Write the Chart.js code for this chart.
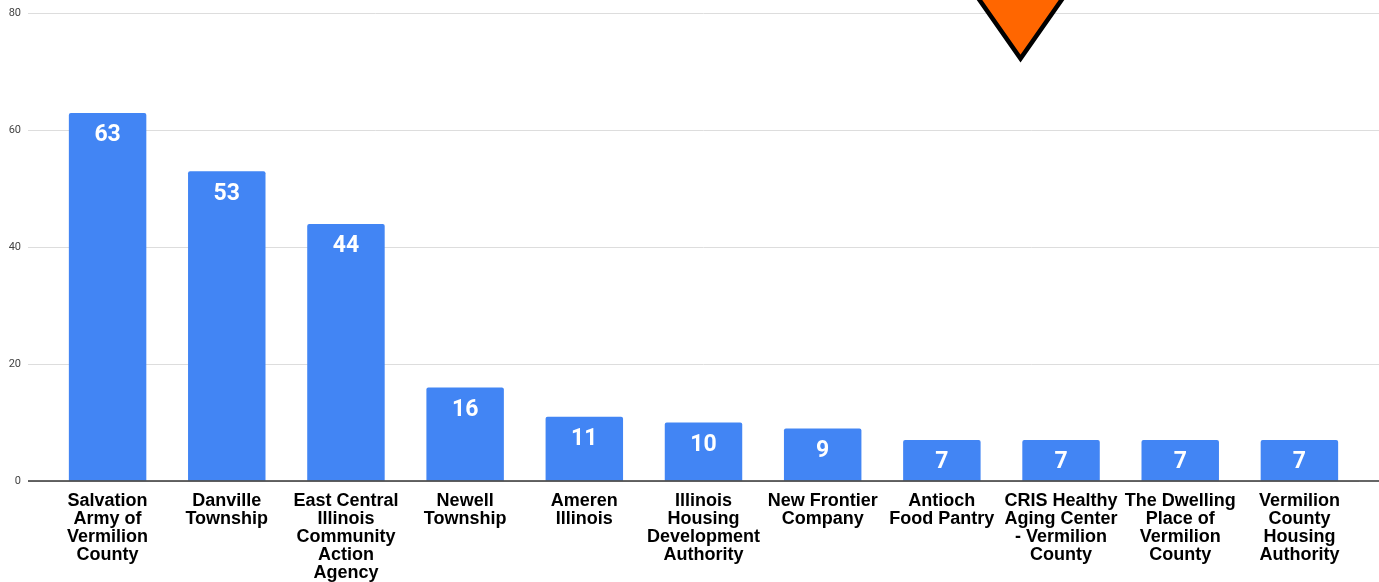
<!DOCTYPE html>
<html>
<head>
<meta charset="utf-8">
<script src="https://cdn.jsdelivr.net/npm/chart.js@4"></script>
<style>
  html, body { margin: 0; padding: 0; background: #fff; }
  #wrap { width: 1379px; height: 582px; position: relative; }
</style>
</head>
<body>
<div id="wrap"><canvas id="chartBar"></canvas></div>
<script>
const categories = [
  ["Salvation", "Army of", "Vermilion", "County"],
  ["Danville", "Township"],
  ["East Central", "Illinois", "Community", "Action", "Agency"],
  ["Newell", "Township"],
  ["Ameren", "Illinois"],
  ["Illinois", "Housing", "Development", "Authority"],
  ["New Frontier", "Company"],
  ["Antioch", "Food Pantry"],
  ["CRIS Healthy", "Aging Center", "- Vermilion", "County"],
  ["The Dwelling", "Place of", "Vermilion", "County"],
  ["Vermilion", "County", "Housing", "Authority"],
];
const counts = [63, 53, 44, 16, 11, 10, 9, 7, 7, 7, 7];
const yTicks = [0, 20, 40, 60, 80];

// orange pointer marker (annotation, not data)
const markerAt = 7.66;     // category index position
const markerTip = 72.3;    // value at the tip

document.addEventListener("DOMContentLoaded", function () {
  function align(p) { return Math.round(p - 0.5) + 0.5; }

  const valueLabels = {
    id: "valueLabels",
    afterDatasetsDraw(chart) {
      const ctx = chart.ctx;
      const meta = chart.getDatasetMeta(0);
      ctx.save();
      ctx.fillStyle = "#ffffff";
      ctx.font = "bold 23px Roboto, 'Liberation Sans', Arial, sans-serif";
      ctx.textAlign = "center";
      ctx.textBaseline = "middle";
      meta.data.forEach(function (bar, i) {
        ctx.fillText(String(counts[i]), bar.x, bar.y + 22.5);
      });
      ctx.restore();
    },
  };

  // grid lines run past the plot on the right; base line runs full width
  const gridExtend = {
    id: "gridExtend",
    beforeDatasetsDraw(chart) {
      const ctx = chart.ctx;
      const y = chart.scales.y;
      ctx.save();
      ctx.strokeStyle = "#dddddd";
      ctx.lineWidth = 1;
      yTicks.forEach(function (t) {
        if (t === 0) return;
        const py = align(y.getPixelForValue(t));
        ctx.beginPath();
        ctx.moveTo(chart.chartArea.right, py);
        ctx.lineTo(chart.width, py);
        ctx.stroke();
      });
      ctx.restore();
    },
    afterDatasetsDraw(chart) {
      const ctx = chart.ctx;
      const y = chart.scales.y;
      const py = y.getPixelForValue(0);
      ctx.save();
      ctx.strokeStyle = "#333333";
      ctx.lineWidth = 1.5;
      ctx.beginPath();
      ctx.moveTo(chart.chartArea.left - 20, py);
      ctx.lineTo(chart.width, py);
      ctx.stroke();
      ctx.restore();
    },
  };

  const marker = {
    id: "marker",
    afterDraw(chart) {
      const ctx = chart.ctx;
      const x = chart.scales.x;
      const y = chart.scales.y;
      const x0 = x.getPixelForValue(Math.floor(markerAt));
      const x1 = x.getPixelForValue(Math.floor(markerAt) + 1);
      const cx = x0 + (x1 - x0) * (markerAt - Math.floor(markerAt));
      const tipY = y.getPixelForValue(markerTip);
      const topY = -20;
      const half = (tipY - topY) * 0.7;
      ctx.save();
      ctx.beginPath();
      ctx.moveTo(cx - half, topY);
      ctx.lineTo(cx + half, topY);
      ctx.lineTo(cx, tipY);
      ctx.closePath();
      ctx.fillStyle = "#ff6600";
      ctx.fill();
      ctx.lineWidth = 4.5;
      ctx.strokeStyle = "#000000";
      ctx.lineJoin = "miter";
      ctx.stroke();
      ctx.restore();
    },
  };

  const dataBar = {
    labels: categories,
    datasets: [
      {
        label: "Count",
        data: counts,
        backgroundColor: "#4285f4",
        borderRadius: { topLeft: 2, topRight: 2 },
        borderSkipped: "bottom",
        categoryPercentage: 1,
        barPercentage: 0.65,
      },
    ],
  };

  const configBar = {
    type: "bar",
    data: dataBar,
    plugins: [gridExtend, valueLabels, marker],
    options: {
      responsive: true,
      maintainAspectRatio: false,
      animation: false,
      layout: { padding: { top: 12, right: 20, left: 0, bottom: 0 } },
      plugins: {
        legend: { display: false },
        tooltip: { enabled: false },
      },
      scales: {
        x: {
          grid: { display: false, drawTicks: false },
          border: { display: false },
          afterFit(scale) { scale.height = 101; },
          ticks: {
            padding: 11,
            color: "#000000",
            maxRotation: 0,
            autoSkip: false,
            font: { family: "'Liberation Sans', Arial, sans-serif", size: 18, weight: "bold", lineHeight: "18px" },
          },
        },
        y: {
          min: 0,
          max: 80,
          afterFit(scale) { scale.width = 48; },
          afterBuildTicks(scale) { scale.ticks = yTicks.map(function (v) { return { value: v }; }); },
          border: { display: false },
          grid: { color: "#dddddd", tickLength: 20, drawTicks: true },
          ticks: {
            padding: 7,
            color: "#444444",
            font: { family: "Roboto, Arial, sans-serif", size: 11 },
          },
        },
      },
    },
  };

  var chartBar = new Chart(document.getElementById("chartBar"), configBar);
});
</script>
</body>
</html>
